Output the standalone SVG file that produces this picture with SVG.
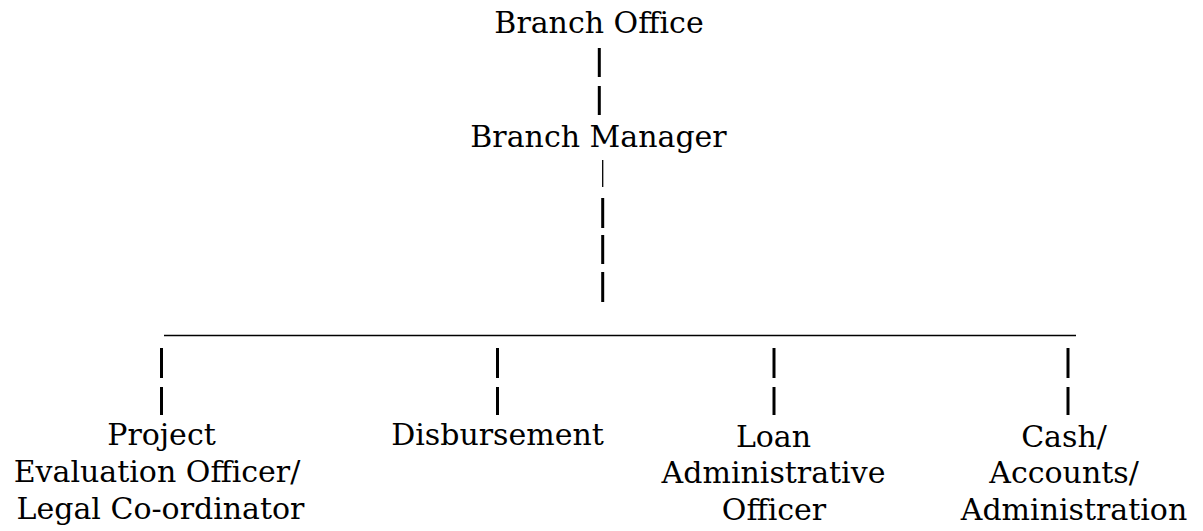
<svg xmlns="http://www.w3.org/2000/svg" width="1203" height="531" viewBox="0 0 1203 531">
<style>
  .t { font-family: "DejaVu Serif", "Liberation Serif", serif; font-size: 30px; fill: #000; text-anchor: middle; }
  .bar { stroke: #000; stroke-width: 3; }
  .thin { stroke: #000; stroke-width: 1.3; }
  .hl { stroke: #000; stroke-width: 1.5; }
</style>
<rect width="1203" height="531" fill="#fff"/>
<g id="connectors">
  <line class="bar" x1="599.3" y1="48" x2="599.3" y2="77"/>
  <line class="bar" x1="599.3" y1="86" x2="599.3" y2="115"/>
  <line class="thin" x1="602.7" y1="160" x2="602.7" y2="187"/>
  <line class="bar" x1="602.7" y1="198" x2="602.7" y2="228"/>
  <line class="bar" x1="602.7" y1="235" x2="602.7" y2="264"/>
  <line class="bar" x1="602.7" y1="272" x2="602.7" y2="302"/>
  <line class="hl" x1="164" y1="335.5" x2="1076" y2="335.5"/>
  <line class="bar" x1="161.5" y1="348" x2="161.5" y2="378"/>
  <line class="bar" x1="161.5" y1="387" x2="161.5" y2="415"/>
  <line class="bar" x1="497.5" y1="348" x2="497.5" y2="378"/>
  <line class="bar" x1="497.5" y1="387" x2="497.5" y2="415"/>
  <line class="bar" x1="774" y1="348" x2="774" y2="378"/>
  <line class="bar" x1="774" y1="387" x2="774" y2="415"/>
  <line class="bar" x1="1068" y1="348" x2="1068" y2="378"/>
  <line class="bar" x1="1068" y1="387" x2="1068" y2="415"/>
</g>
<g id="branch-office">
  <text class="t" x="599" y="33">Branch Office</text>
</g>
<g id="branch-manager">
  <text class="t" x="598.5" y="147">Branch Manager</text>
</g>
<g id="project-evaluation">
  <text class="t" x="161.5" y="445">Project</text>
  <text class="t" x="157" y="482">Evaluation Officer/</text>
  <text class="t" x="160.5" y="519">Legal Co-ordinator</text>
</g>
<g id="disbursement">
  <text class="t" x="497.5" y="445">Disbursement</text>
</g>
<g id="loan-admin">
  <text class="t" x="773.5" y="447">Loan</text>
  <text class="t" x="773.5" y="483">Administrative</text>
  <text class="t" x="774" y="520">Officer</text>
</g>
<g id="cash-accounts">
  <text class="t" x="1064" y="447">Cash/</text>
  <text class="t" x="1064" y="483">Accounts/</text>
  <text class="t" x="1074" y="520">Administration</text>
</g>
</svg>
